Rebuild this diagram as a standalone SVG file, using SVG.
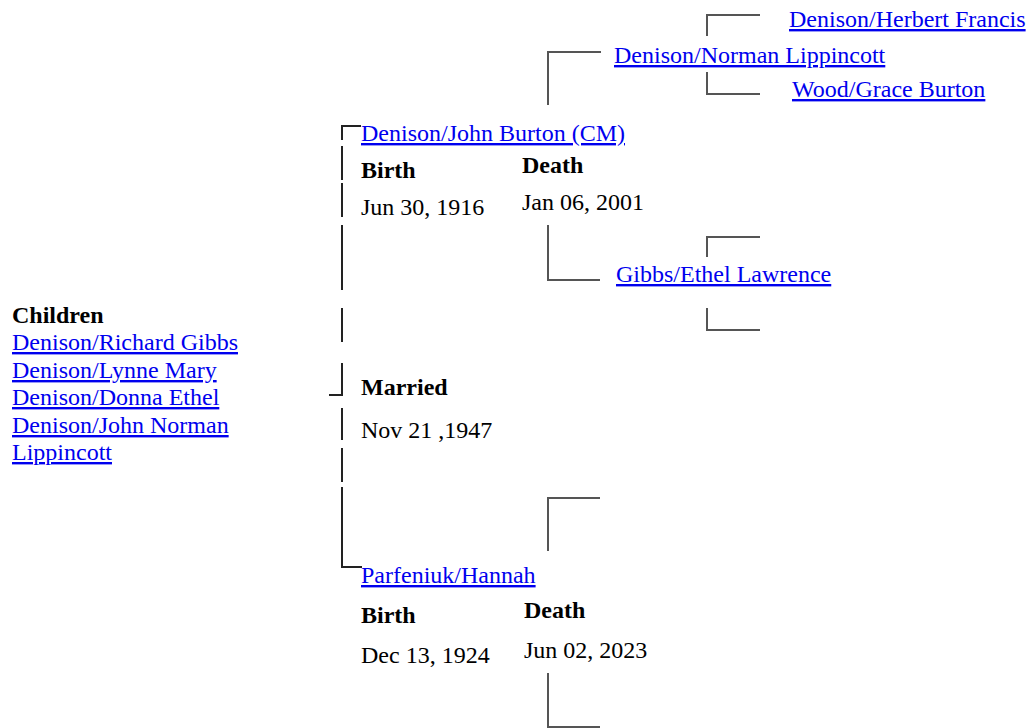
<svg xmlns="http://www.w3.org/2000/svg" width="1026" height="728" viewBox="0 0 1026 728">
<style>
text{font-family:"Liberation Serif","Times New Roman",serif;font-size:24px;fill:#000}
.lk{fill:#0000ee;text-decoration:underline}
.b{font-weight:bold}
.main{fill:none;stroke:#222;stroke-width:2}
.br{fill:none;stroke:#555;stroke-width:2}
</style>
<rect width="1026" height="728" fill="#fff"/>
<g id="connectors">
<path class="main" d="M361 126H342V140"/>
<path class="main" d="M342 146V180"/>
<path class="main" d="M342 183V217"/>
<path class="main" d="M342 225V290"/>
<path class="main" d="M342 308V342"/>
<path class="main" d="M342 363V395H329"/>
<path class="main" d="M342 408V440"/>
<path class="main" d="M342 448V482"/>
<path class="main" d="M342 487V567H362"/>
<path class="br" d="M548 105V52H601"/>
<path class="br" d="M707 36V15H760"/>
<path class="br" d="M707 72V94H760"/>
<path class="br" d="M548 225V280H600"/>
<path class="br" d="M707 257V237H760"/>
<path class="br" d="M707 308V330H760"/>
<path class="br" d="M548 551V498H600"/>
<path class="br" d="M548 673V727H600"/>
</g>
<g id="herbert"><text class="lk" x="789" y="27">Denison/Herbert Francis</text></g>
<g id="norman"><text class="lk" x="614" y="63">Denison/Norman Lippincott</text></g>
<g id="wood"><text class="lk" x="792" y="97">Wood/Grace Burton</text></g>
<g id="john">
<text class="lk" x="361" y="141">Denison/John Burton (CM)</text>
<text class="b" x="361" y="178">Birth</text>
<text x="361" y="215">Jun 30, 1916</text>
<text class="b" x="522" y="173">Death</text>
<text x="522" y="210">Jan 06, 2001</text>
</g>
<g id="gibbs"><text class="lk" x="616" y="282">Gibbs/Ethel Lawrence</text></g>
<g id="children">
<text class="b" x="12" y="323">Children</text>
<text class="lk" x="12" y="350">Denison/Richard Gibbs</text>
<text class="lk" x="12" y="378">Denison/Lynne Mary</text>
<text class="lk" x="12" y="405">Denison/Donna Ethel</text>
<text class="lk" x="12" y="433">Denison/John Norman</text>
<text class="lk" x="12" y="460">Lippincott</text>
</g>
<g id="marriage">
<text class="b" x="361" y="395">Married</text>
<text x="361" y="438">Nov 21 ,1947</text>
</g>
<g id="hannah">
<text class="lk" x="361" y="583">Parfeniuk/Hannah</text>
<text class="b" x="361" y="623">Birth</text>
<text x="361" y="663">Dec 13, 1924</text>
<text class="b" x="524" y="618">Death</text>
<text x="524" y="658">Jun 02, 2023</text>
</g>
</svg>
